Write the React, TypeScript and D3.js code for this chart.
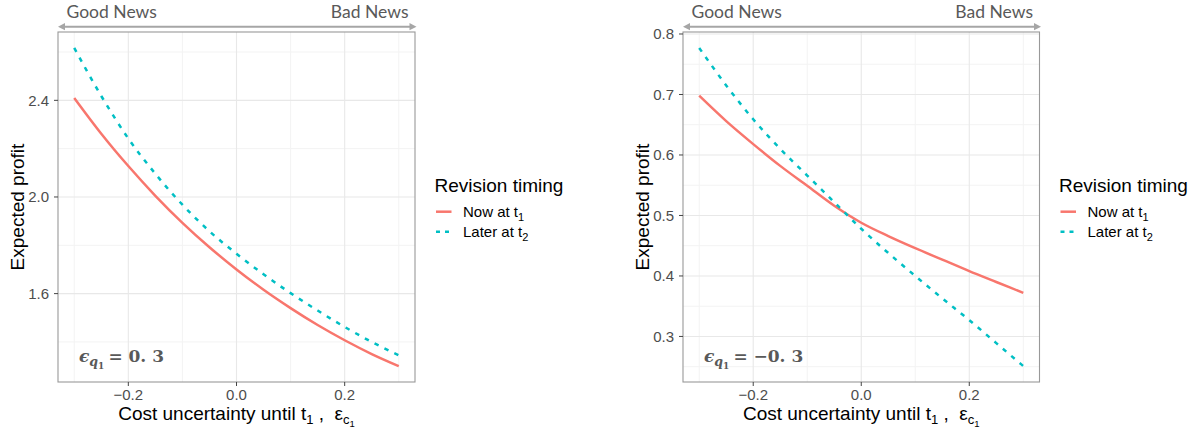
import React from 'react';
import * as d3 from 'd3';

// ---------- data ----------
const costUncertainty = [-0.3, -0.25, -0.2, -0.15, -0.1, -0.05, 0, 0.05, 0.1, 0.15, 0.2, 0.25, 0.3];
const leftNowAtT1 = [2.41, 2.262, 2.128, 2.005, 1.893, 1.792, 1.7, 1.616, 1.54, 1.47, 1.407, 1.35, 1.3];
const leftLaterAtT2 = [2.617, 2.418, 2.242, 2.096, 1.968, 1.858, 1.765, 1.68, 1.602, 1.53, 1.462, 1.4, 1.345];
const rightNowAtT1 = [0.698, 0.656, 0.618, 0.582, 0.549, 0.516, 0.488, 0.466, 0.446, 0.427, 0.408, 0.39, 0.372];
const rightLaterAtT2 = [0.777, 0.715, 0.659, 0.61, 0.566, 0.522, 0.478, 0.438, 0.4, 0.363, 0.327, 0.289, 0.251];

const xMajorTicks = [-0.2, 0, 0.2];
const xMinorTicks = [-0.3, -0.1, 0.1, 0.3];
const leftYMajorTicks = [1.6, 2.0, 2.4];
const leftYMinorTicks = [1.4, 1.8, 2.2, 2.6];
const rightYMajorTicks = [0.3, 0.4, 0.5, 0.6, 0.7, 0.8];
const rightYMinorTicks = [0.25, 0.35, 0.45, 0.55, 0.65, 0.75];

const seriesLabels = ['Now at t', 'Later at t'];
const seriesSubs = ['1', '2'];
const seriesColors = ['#F8766D', '#00BFC4'];
const seriesDash = [null, '4.5,6.5'];

const leftQValue = '0. 3';
const rightQValue = '\u22120. 3';

const SANS = '"Liberation Sans", Arial, Helvetica, sans-serif';
const NEWS_FONT = 'Lato, "Open Sans", sans-serif';
const MATH_FONT = '"DejaVu Serif", "Liberation Serif", serif';

type PanelProps = {
  x0: number; x1: number; y0: number; y1: number;
  now: number[]; later: number[];
  yMajor: number[]; yMinor: number[];
  qValue: string;
  legendX: number;
};

function Panel(p: PanelProps) {
  const xs = d3.scaleLinear().domain([-0.33, 0.33]).range([p.x0, p.x1]);
  const all = [...p.now, ...p.later];
  const [mn, mx] = d3.extent(all) as [number, number];
  const pad = (mx - mn) * 0.05;
  const ys = d3.scaleLinear().domain([mn - pad, mx + pad]).range([p.y1, p.y0]);
  const fmt = d3.format('.1f');
  const line = d3
    .line<number>()
    .x((_, i) => xs(costUncertainty[i]))
    .y((d) => ys(d))
    .curve(d3.curveMonotoneX);
  const series = [p.now, p.later];
  const cx = (p.x0 + p.x1) / 2;
  const cy = (p.y0 + p.y1) / 2;
  const arrowY = 26.7;
  const ah = 7;
  const aw = 3.6;
  const ax0 = p.x0;
  const ax1 = p.x1 + 1.5;
  const tickFmt = (v: number) => fmt(v);
  return (
    <g>
      {/* header arrow */}
      <line x1={ax0 + ah - 1} x2={ax1 - ah + 1} y1={arrowY} y2={arrowY} stroke="#A6A6A6" strokeWidth={2} />
      <path d={`M${ax0},${arrowY} L${ax0 + ah},${arrowY - aw} L${ax0 + ah},${arrowY + aw} Z`} fill="#A6A6A6" />
      <path d={`M${ax1},${arrowY} L${ax1 - ah},${arrowY - aw} L${ax1 - ah},${arrowY + aw} Z`} fill="#A6A6A6" />
      <text x={p.x0 + 8.5} y={18} fontFamily={NEWS_FONT} fontSize={17.5} fill="#595959">Good News</text>
      <text x={p.x1 - 6.5} y={18} fontFamily={NEWS_FONT} fontSize={17.5} fill="#595959" textAnchor="end">Bad News</text>

      {/* panel background & grids */}
      <rect x={p.x0} y={p.y0} width={p.x1 - p.x0} height={p.y1 - p.y0} fill="#fff" />
      {p.yMinor.map((v) => (
        <line key={'ym' + v} x1={p.x0} x2={p.x1} y1={ys(v)} y2={ys(v)} stroke="#F3F3F3" strokeWidth={1} />
      ))}
      {xMinorTicks.map((v) => (
        <line key={'xm' + v} x1={xs(v)} x2={xs(v)} y1={p.y0} y2={p.y1} stroke="#F3F3F3" strokeWidth={1} />
      ))}
      {p.yMajor.map((v) => (
        <line key={'yM' + v} x1={p.x0} x2={p.x1} y1={ys(v)} y2={ys(v)} stroke="#E8E8E8" strokeWidth={1.1} />
      ))}
      {xMajorTicks.map((v) => (
        <line key={'xM' + v} x1={xs(v)} x2={xs(v)} y1={p.y0} y2={p.y1} stroke="#E8E8E8" strokeWidth={1.1} />
      ))}

      {/* lines */}
      {series.map((s, i) => (
        <path
          key={'s' + i}
          d={line(s) || ''}
          fill="none"
          stroke={seriesColors[i]}
          strokeWidth={2.5}
          strokeDasharray={seriesDash[i] || undefined}
        />
      ))}

      {/* annotation */}
      <text x={p.x0 + 21} y={362} fontFamily={MATH_FONT} fontWeight="bold" fontSize={17} fill="#595959">
        <tspan fontStyle="italic">{'\u03F5'}</tspan>
        <tspan fontStyle="italic" fontSize={12.5} dy={4}>q</tspan>
        <tspan fontSize={9} dy={3}>1</tspan>
        <tspan dy={-7} dx={4}>{'= ' + p.qValue}</tspan>
      </text>

      {/* border */}
      <rect x={p.x0} y={p.y0} width={p.x1 - p.x0} height={p.y1 - p.y0} fill="none" stroke="#999" strokeWidth={1.1} />

      {/* y axis */}
      {p.yMajor.map((v) => (
        <g key={'yt' + v}>
          <line x1={p.x0 - 4} x2={p.x0} y1={ys(v)} y2={ys(v)} stroke="#444" strokeWidth={1} />
          <text x={p.x0 - 9} y={ys(v)} dy="0.36em" textAnchor="end" fontFamily={SANS} fontSize={15} fill="#4D4D4D">
            {tickFmt(v)}
          </text>
        </g>
      ))}
      {/* x axis */}
      {xMajorTicks.map((v) => (
        <g key={'xt' + v}>
          <line x1={xs(v)} x2={xs(v)} y1={p.y1} y2={p.y1 + 4} stroke="#444" strokeWidth={1} />
          <text x={xs(v)} y={400} textAnchor="middle" fontFamily={SANS} fontSize={15} fill="#4D4D4D">
            {tickFmt(v)}
          </text>
        </g>
      ))}

      {/* axis titles */}
      <text
        transform={`translate(${p.x0 - 34},${cy}) rotate(-90)`}
        textAnchor="middle"
        fontFamily={SANS}
        fontSize={19}
        fill="#000"
      >
        Expected profit
      </text>
      <text x={cx} y={420} textAnchor="middle" fontFamily={SANS} fontSize={19} fill="#000">
        <tspan>Cost uncertainty until t</tspan>
        <tspan fontSize={13} dy={4}>1</tspan>
        <tspan dy={-4}>{'\u00A0,\u00A0\u00A0\u03B5'}</tspan>
        <tspan fontSize={13} dy={4}>c</tspan>
        <tspan fontSize={9.5} dy={3}>1</tspan>
      </text>

      {/* legend */}
      <text x={p.legendX} y={191.7} fontFamily={SANS} fontSize={19} fill="#000">Revision timing</text>
      {seriesLabels.map((lab, i) => (
        <g key={'lg' + i}>
          <line
            x1={p.legendX + 1.5}
            x2={p.legendX + 17}
            y1={211.7 + i * 20}
            y2={211.7 + i * 20}
            stroke={seriesColors[i]}
            strokeWidth={2.5}
            strokeDasharray={seriesDash[i] ? '4,5' : undefined}
          />
          <text x={p.legendX + 28.5} y={217.3 + i * 20} fontFamily={SANS} fontSize={15} fill="#000">
            <tspan>{lab}</tspan>
            <tspan fontSize={11} dy={4}>{seriesSubs[i]}</tspan>
          </text>
        </g>
      ))}
    </g>
  );
}

export default function App() {
  return (
    <svg
      width={1200}
      height={432}
      viewBox="0 0 1200 432"
      style={{ position: 'absolute', left: 0, top: 0, background: '#fff' }}
    >
      <rect x={0} y={0} width={1200} height={432} fill="#fff" />
      <Panel
        x0={58}
        x1={415}
        y0={32}
        y1={382}
        now={leftNowAtT1}
        later={leftLaterAtT2}
        yMajor={leftYMajorTicks}
        yMinor={leftYMinorTicks}
        qValue={leftQValue}
        legendX={434.5}
      />
      <Panel
        x0={683}
        x1={1039.5}
        y0={32}
        y1={382}
        now={rightNowAtT1}
        later={rightLaterAtT2}
        yMajor={rightYMajorTicks}
        yMinor={rightYMinorTicks}
        qValue={rightQValue}
        legendX={1059}
      />
    </svg>
  );
}
